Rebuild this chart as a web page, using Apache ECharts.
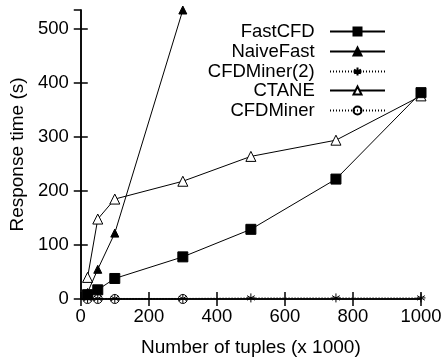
<!DOCTYPE html>
<html>
<head>
<meta charset="utf-8">
<script src="https://cdn.jsdelivr.net/npm/echarts@6/dist/echarts.min.js"></script>
<style>
html,body{margin:0;padding:0;background:#fff;}
#chart{width:446px;height:362px;}
</style>
</head>
<body>
<div id="chart"></div>
<script>
var seriesNames = ['FastCFD', 'NaiveFast', 'CFDMiner(2)', 'CTANE', 'CFDMiner'];
var fastCfdX = [20, 50, 100, 300, 500, 750, 1000];
var fastCfdY = [8, 17, 38, 78, 129, 222, 382];
var naiveFastX = [20, 50, 100, 300];
var naiveFastY = [12, 55, 122, 535];
var cfdMiner2X = [20, 50, 100, 300, 500, 750, 1000];
var cfdMiner2Y = [1, 1, 1, 1, 2, 2, 2];
var ctaneX = [20, 50, 100, 300, 500, 750, 1000];
var ctaneY = [40, 148, 185, 218, 264, 294, 376];
var cfdMinerX = [20, 50, 100, 300];
var cfdMinerY = [0, 0, 0, 0];
var xTicks = [0, 200, 400, 600, 800, 1000];
var yTicks = [0, 100, 200, 300, 400, 500];

function pairs(xs, ys) { return xs.map(function (x, i) { return [x, ys[i]]; }); }

var FONT = '"Liberation Sans", Arial, Helvetica, sans-serif';
var asterisk = 'path://M5,0L5,10M0.7,2.5L9.3,7.5M0.7,7.5L9.3,2.5M0,5L10,5';

var chart = echarts.init(document.getElementById('chart'), null, {renderer: 'canvas'});

var legendTops = [22, 42, 62, 81, 101];
var legends = seriesNames.map(function (n, i) {
  return {
    data: [n], orient: 'vertical', right: 60, top: legendTops[i], padding: 0,
    itemWidth: 55, itemHeight: 10, align: 'right', selectedMode: false,
    formatter: function (name) { return name + '  '; },
    textStyle: {fontFamily: FONT, fontSize: 18.5, color: '#000'}
  };
});

var axisCommonX = {
  type: 'value', min: 0, max: 1000, interval: 200,
  axisLine: {show: true, lineStyle: {color: '#000', width: 1.5}},
  axisTick: {show: true, inside: true, length: 7, lineStyle: {color: '#000', width: 1.5}},
  splitLine: {show: false}
};
var axisCommonY = {
  type: 'value', min: 0, max: 535, interval: 100,
  axisLine: {show: true, lineStyle: {color: '#000', width: 1.5}},
  axisTick: {show: true, inside: true, length: 7, lineStyle: {color: '#000', width: 1.5}},
  splitLine: {show: false}
};

function lineSeries(name, data, symbol, size, fill, lineType, z) {
  return {
    name: name, type: 'line', data: data, symbol: symbol, symbolSize: size,
    showSymbol: true, clip: false, z: z, animation: false,
    lineStyle: {color: '#000', width: 1, type: lineType},
    itemStyle: {color: fill, borderColor: '#000', borderWidth: 1},
    emphasis: {disabled: true}
  };
}

var option = {
  backgroundColor: '#fff',
  animation: false,
  legend: legends,
  grid: {left: 77, right: 25, top: 10, bottom: 60},
  xAxis: [
    Object.assign({}, axisCommonX, {
      position: 'bottom',
      name: 'Number of tuples (x 1000)', nameLocation: 'middle', nameGap: 39,
      nameTextStyle: {fontFamily: FONT, fontSize: 19, color: '#000'},
      axisLabel: {fontFamily: FONT, fontSize: 18.5, color: '#000', margin: 8,
        formatter: function (v) { return xTicks.indexOf(v) >= 0 ? String(v) : ''; }}
    }),
    Object.assign({}, axisCommonX, {position: 'top', axisLabel: {show: false}})
  ],
  yAxis: [
    Object.assign({}, axisCommonY, {
      position: 'left',
      name: 'Response time (s)', nameLocation: 'middle', nameGap: 52,
      nameTextStyle: {fontFamily: FONT, fontSize: 19, color: '#000'},
      axisLabel: {fontFamily: FONT, fontSize: 18.5, color: '#000', margin: 12, showMaxLabel: false,
        formatter: function (v) { return yTicks.indexOf(v) >= 0 ? String(v) : ''; }}
    }),
    Object.assign({}, axisCommonY, {position: 'right', axisLabel: {show: false}})
  ],
  series: [
    lineSeries('FastCFD', pairs(fastCfdX, fastCfdY), 'rect', 10, '#000', 'solid', 5),
    lineSeries('NaiveFast', pairs(naiveFastX, naiveFastY), 'triangle', 8, '#000', 'solid', 4),
    lineSeries('CFDMiner(2)', pairs(cfdMiner2X, cfdMiner2Y), asterisk, 9, 'rgba(0,0,0,0)', [1, 2], 3),
    lineSeries('CTANE', pairs(ctaneX, ctaneY), 'triangle', 10, '#fff', 'solid', 2),
    lineSeries('CFDMiner', pairs(cfdMinerX, cfdMinerY), 'circle', 9, 'rgba(0,0,0,0)', [1, 2], 1)
  ]
};
chart.setOption(option);
</script>
</body>
</html>
